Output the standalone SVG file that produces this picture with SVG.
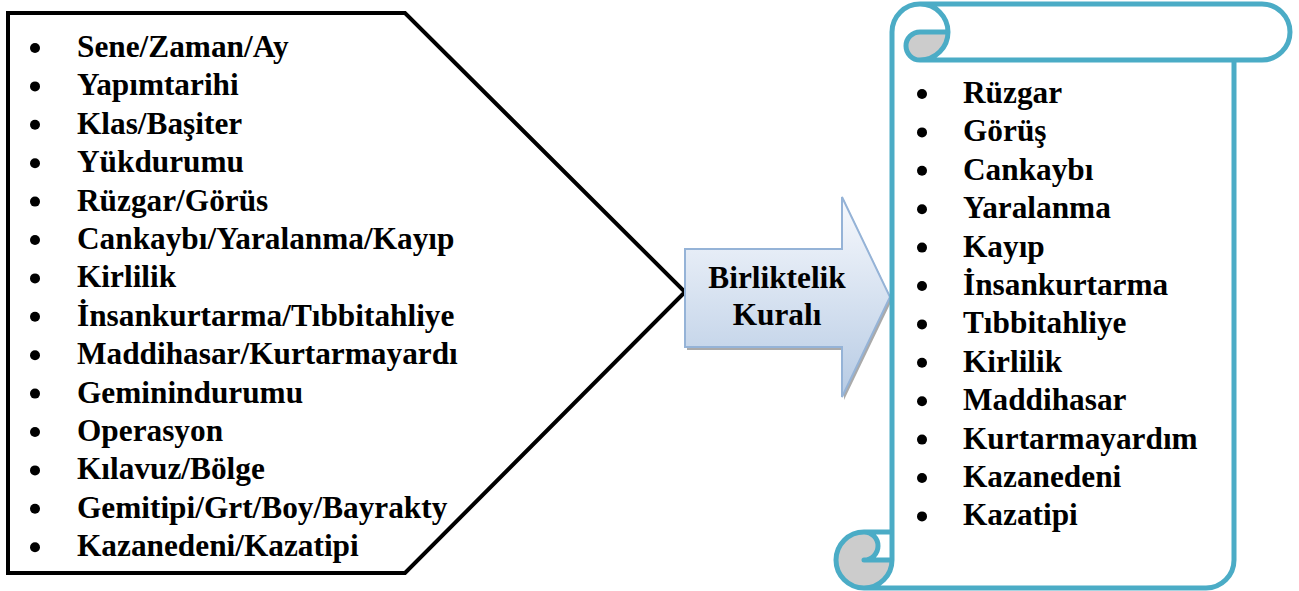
<svg xmlns="http://www.w3.org/2000/svg" width="1299" height="591" viewBox="0 0 1299 591">
<defs>
<linearGradient id="arrowGrad" x1="0" y1="0" x2="0" y2="1">
<stop offset="0" stop-color="#F7F9FD"/>
<stop offset="1" stop-color="#B7CBE4"/>
</linearGradient>
<style>
.t{font-family:'Liberation Serif','Times New Roman',serif;font-weight:700;font-size:31.3px;fill:#000}
.b{fill:#000}
.scroll{fill:none;stroke:#4BACC6;stroke-width:5;stroke-linejoin:round}
</style>
</defs>
<rect width="1299" height="591" fill="#fff"/>
<g id="node-left">
<polygon points="8,13 405,13 685,292 405,573 8,573" fill="#fff" stroke="#000" stroke-width="4"/>
<g class="b">
<circle cx="35" cy="48" r="5"/><circle cx="35" cy="86.4" r="5"/><circle cx="35" cy="124.8" r="5"/><circle cx="35" cy="163.2" r="5"/><circle cx="35" cy="201.6" r="5"/><circle cx="35" cy="240" r="5"/><circle cx="35" cy="278.4" r="5"/><circle cx="35" cy="316.8" r="5"/><circle cx="35" cy="355.2" r="5"/><circle cx="35" cy="393.6" r="5"/><circle cx="35" cy="432" r="5"/><circle cx="35" cy="470.4" r="5"/><circle cx="35" cy="508.8" r="5"/><circle cx="35" cy="547.2" r="5"/>
</g>
<text class="t" x="77" y="57">Sene/Zaman/Ay</text>
<text class="t" x="77" y="95.4">Yapımtarihi</text>
<text class="t" x="77" y="133.8">Klas/Başiter</text>
<text class="t" x="77" y="172.2">Yükdurumu</text>
<text class="t" x="77" y="210.6">Rüzgar/Görüs</text>
<text class="t" x="77" y="249">Cankaybı/Yaralanma/Kayıp</text>
<text class="t" x="77" y="287.4">Kirlilik</text>
<text class="t" x="77" y="325.8">İnsankurtarma/Tıbbitahliye</text>
<text class="t" x="77" y="364.2">Maddihasar/Kurtarmayardı</text>
<text class="t" x="77" y="402.6">Geminindurumu</text>
<text class="t" x="77" y="441">Operasyon</text>
<text class="t" x="77" y="479.4">Kılavuz/Bölge</text>
<text class="t" x="77" y="517.8">Gemitipi/Grt/Boy/Bayrakty</text>
<text class="t" x="77" y="556.2">Kazanedeni/Kazatipi</text>
</g>
<g id="node-arrow">
<polygon points="687,252 844,252 844,200 892,300 844,400 844,350 687,350" fill="#8E8E8E" opacity="0.75"/>
<polygon points="685,249 842,249 842,197 890,297 842,397 842,347 685,347" fill="url(#arrowGrad)" stroke="#95B3D7" stroke-width="2" stroke-linejoin="miter"/>
<text class="t" x="777" y="288" text-anchor="middle">Birliktelik</text>
<text class="t" x="777" y="325" text-anchor="middle">Kuralı</text>
</g>
<g id="node-scroll">
<path d="M892,532 L892,32 A28,28 0 0 1 920,4 L1262,4 A28,28 0 0 1 1262,60 L1234,60 L1234,560 A28,28 0 0 1 1206,588 L864,588 A28,28 0 0 1 864,532 Z" fill="#fff"/>
<path d="M948,32 A28,28 0 0 1 920,60 A14,14 0 0 1 920,32 Z" fill="#CCCCCC"/>
<path d="M892,560 A28,28 0 1 1 864,532 A14,14 0 0 1 864,560 Z" fill="#CCCCCC"/>
<path class="scroll" d="M892,532 L892,32 A28,28 0 0 1 920,4 L1262,4 A28,28 0 0 1 1262,60 L1234,60 L1234,560 A28,28 0 0 1 1206,588 L864,588 A28,28 0 0 1 864,532 Z M920,4 A28,28 0 0 1 920,60 A14,14 0 0 1 920,32 L948,32 M1234,60 L920,60 M864,532 A14,14 0 0 1 864,560 L892,560 M864,588 A28,28 0 0 0 892,560 L892,532"/>
<g class="b">
<circle cx="922" cy="94" r="5"/><circle cx="922" cy="132.4" r="5"/><circle cx="922" cy="170.8" r="5"/><circle cx="922" cy="209.2" r="5"/><circle cx="922" cy="247.6" r="5"/><circle cx="922" cy="286" r="5"/><circle cx="922" cy="324.4" r="5"/><circle cx="922" cy="362.8" r="5"/><circle cx="922" cy="401.2" r="5"/><circle cx="922" cy="439.6" r="5"/><circle cx="922" cy="478" r="5"/><circle cx="922" cy="516.4" r="5"/>
</g>
<text class="t" x="963" y="103">Rüzgar</text>
<text class="t" x="963" y="141.4">Görüş</text>
<text class="t" x="963" y="179.8">Cankaybı</text>
<text class="t" x="963" y="218.2">Yaralanma</text>
<text class="t" x="963" y="256.6">Kayıp</text>
<text class="t" x="963" y="295">İnsankurtarma</text>
<text class="t" x="963" y="333.4">Tıbbitahliye</text>
<text class="t" x="963" y="371.8">Kirlilik</text>
<text class="t" x="963" y="410.2">Maddihasar</text>
<text class="t" x="963" y="448.6">Kurtarmayardım</text>
<text class="t" x="963" y="487">Kazanedeni</text>
<text class="t" x="963" y="525.4">Kazatipi</text>
</g>
</svg>
